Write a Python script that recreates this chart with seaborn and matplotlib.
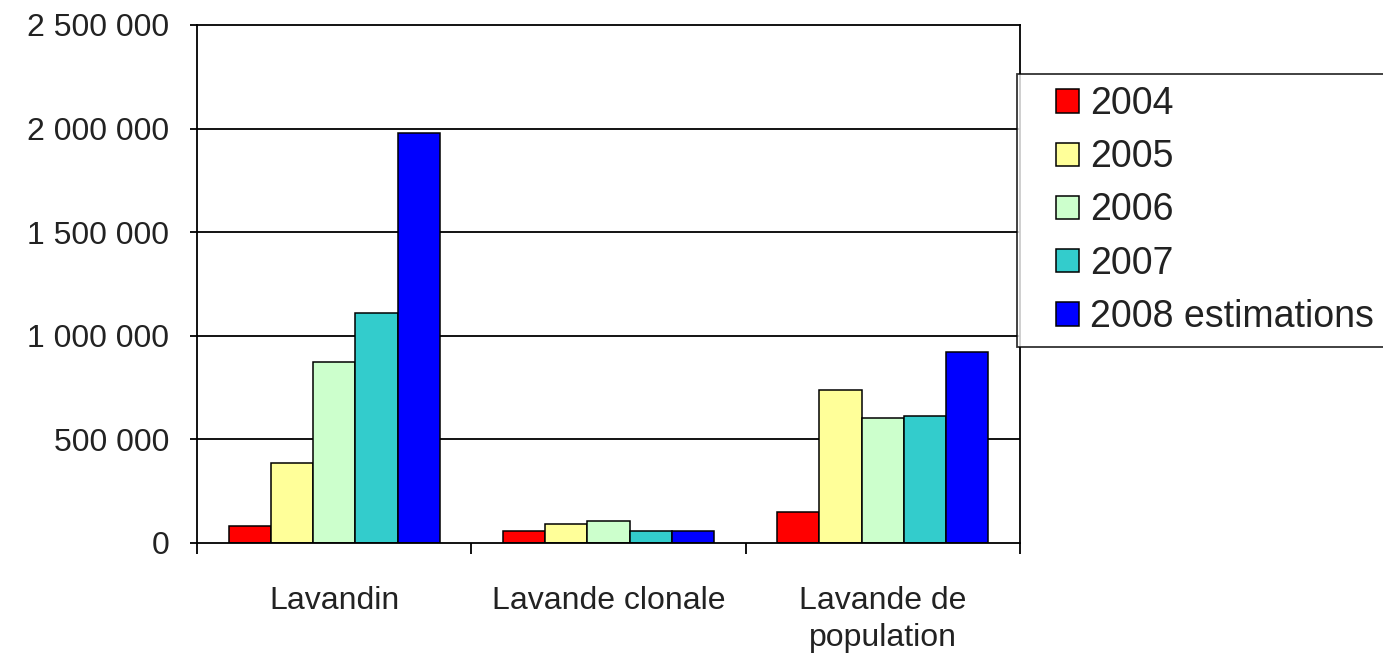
import matplotlib
matplotlib.use("Agg")
import matplotlib.pyplot as plt
import seaborn as sns
import pandas as pd
from matplotlib.patches import Rectangle
from matplotlib.legend_handler import HandlerPatch
from matplotlib.ticker import FuncFormatter

categories = ["Lavandin", "Lavande clonale", "Lavande de\npopulation"]
years = ["2004", "2005", "2006", "2007", "2008 estimations"]
v2004 = [82000, 58000, 150000]
v2005 = [386000, 92000, 739000]
v2006 = [874000, 104000, 604000]
v2007 = [1111000, 58000, 614000]
v2008 = [1981000, 58000, 923000]
colors = ["#FF0000", "#FFFF99", "#CCFFCC", "#33CCCC", "#0000FF"]

series = [v2004, v2005, v2006, v2007, v2008]
rows = []
for y, vals in zip(years, series):
    for c, v in zip(categories, vals):
        rows.append({"cat": c, "year": y, "value": v})
df = pd.DataFrame(rows)

sns.set_theme(style="white")
plt.rcParams["font.family"] = ["Liberation Sans", "DejaVu Sans"]

fig = plt.figure(figsize=(13.83, 6.55), dpi=100)
ax = fig.add_axes([197/1383, 1-543/655, (1020-197)/1383, (543-25)/655])

sns.barplot(data=df, x="cat", y="value", hue="year", order=categories,
            hue_order=years, palette=colors, width=0.77, edgecolor="black",
            linewidth=1.1, saturation=1, ax=ax, legend=False)

ax.set_ylim(0, 2500000)
ax.set_xlim(-0.5, 2.5)
ax.set_yticks([0, 500000, 1000000, 1500000, 2000000, 2500000])
ax.yaxis.set_major_formatter(FuncFormatter(lambda v, p: f"{int(v):,}".replace(",", " ")))
ax.set_xlabel("")
ax.set_ylabel("")
for y in [500000, 1000000, 1500000, 2000000]:
    ax.axhline(y, color="black", lw=1.3, zorder=0)
for s in ax.spines.values():
    s.set_visible(True)
    s.set_color("black")
    s.set_linewidth(1.3)

ax.tick_params(axis="y", which="major", left=True, length=5, width=1.3, color="black",
               labelsize=23, pad=15, labelcolor="#222222")
ax.tick_params(axis="x", which="major", bottom=False, labelsize=23, pad=25, labelcolor="#222222")
ax.set_xticks([0, 1, 2])
ax.set_xticklabels(categories, linespacing=1.3)
ax.set_xticks([-0.5, 0.5, 1.5, 2.5], minor=True)
ax.tick_params(axis="x", which="minor", bottom=True, length=8, width=1.3, color="black")

LEG_FS = 27

def square(legend, orig_handle, xdescent, ydescent, width, height, fontsize):
    h = fontsize * 0.62
    return Rectangle((xdescent + width - h, ydescent + (height - h) / 2), h, h)

handles = [Rectangle((0, 0), 1, 1, facecolor=c, edgecolor="black", linewidth=1.1) for c in colors]
leg = fig.legend(handles, years, loc="upper left", mode="expand",
                 bbox_to_anchor=(1017/1383, 0, 1.0, 1-74/655), bbox_transform=fig.transFigure,
                 fontsize=LEG_FS, frameon=True, fancybox=False, edgecolor="black",
                 borderpad=0.32, labelspacing=0.46, handlelength=1.33, handleheight=0.7,
                 handletextpad=0.3, borderaxespad=0,
                 handler_map={Rectangle: HandlerPatch(patch_func=square)})
leg.get_frame().set_linewidth(1.3)
for t in leg.get_texts():
    t.set_color("#222222")

fig.savefig("out.png", dpi=100, facecolor="white")
